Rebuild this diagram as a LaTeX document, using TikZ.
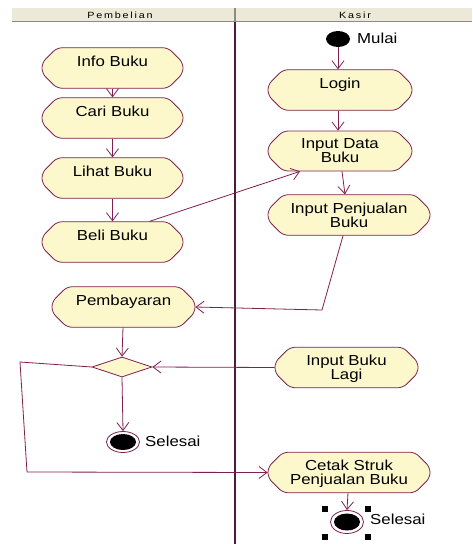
\documentclass[tikz,border=0pt]{standalone}
\usepackage{fontspec}
\usetikzlibrary{arrows.meta,shapes.misc,shapes.geometric}
\setmainfont{Liberation Serif}
\newfontfamily\rosefont[FakeStretch=1.16]{Liberation Sans}
\newfontfamily\lanefont[FakeStretch=1.2,LetterSpace=20]{Liberation Sans}

\definecolor{flow}{RGB}{128,32,80}
\definecolor{actfill}{RGB}{252,248,204}
\definecolor{lanehead}{RGB}{236,233,216}
\definecolor{laneedge}{RGB}{140,140,135}
\definecolor{laneline}{RGB}{80,25,55}

\tikzset{
  act/.style={chamfered rectangle, chamfered rectangle xsep=7pt, chamfered rectangle ysep=8pt,
    rounded corners=5pt, draw=flow, fill=actfill, line width=0.8pt,
    inner sep=0pt, minimum height=30pt, align=center, text depth=0pt,
    font=\rosefont\fontsize{14.5}{14}\selectfont},
  lbl/.style={anchor=west, inner sep=0pt, font=\rosefont\fontsize{14.5}{14}\selectfont},
  lanelbl/.style={inner sep=0pt, font=\lanefont\fontsize{9}{9}\selectfont},
  flowline/.style={draw=flow, line width=0.8pt},
  flowarrow/.style={flowline, -{Straight Barb[length=8pt,width=12pt]}},
  startdot/.style={ellipse, fill=black, inner sep=0pt, minimum width=24pt, minimum height=16pt},
  endring/.style={ellipse, draw=flow, fill=white, line width=0.8pt, inner sep=0pt,
    minimum width=33pt, minimum height=21pt},
  enddot/.style={ellipse, fill=black, inner sep=0pt, minimum width=26pt, minimum height=16pt},
  handle/.style={rectangle, fill=black, inner sep=0pt, minimum size=6pt},
  decision/.style={diamond, aspect=3, draw=flow, fill=actfill, line width=0.8pt,
    inner sep=0pt, minimum width=60pt, minimum height=20pt}
}

\begin{document}
\begin{tikzpicture}[x=1pt, y=-1pt]
  \useasboundingbox (0,0) rectangle (472,544);
  \fill[white] (0,0) rectangle (472,544);

  % caption running off the top edge: only its lowest part shows
  \node[anchor=base west, inner sep=0pt, font=\fontsize{30}{30}\selectfont]
    (caption) at (48,-7) {Activity diagram penjualan buku};

  % swimlane header
  \fill[lanehead] (12,8) rectangle (472,21);
  \draw[laneedge, line width=1.5pt] (12,21.5) -- (472,21.5);
  \draw[laneedge, line width=1.2pt] (235,8) -- (235,21);
  \draw[laneline, line width=1.3pt] (235,22) -- (235,544);
  \node[lanelbl] (lanePembelian) at (120,15) {Pembelian};
  \node[lanelbl] (laneKasir) at (355,15) {Kasir};

  % Pembelian lane
  \node[act, minimum width=141pt] (info)  at (112.5,68)  {Info Buku\\\phantom{B}};
  \node[act, minimum width=141pt] (cari)  at (112.5,118) {Cari Buku\\\phantom{B}};
  \node[act, minimum width=141pt] (lihat) at (112.5,178) {Lihat Buku\\\phantom{B}};
  \node[act, minimum width=141pt] (beli)  at (112.5,242) {Beli Buku\\\phantom{B}};
  \node[act, minimum width=143pt] (bayar) at (123.5,307) {Pembayaran\\\phantom{B}};
  \node[decision] (cek) at (122,367) {};
  \node[endring] (end1) at (123,442) {};
  \node[enddot] (end1dot) at (123,442) {};
  \node[lbl] (end1lbl) at (145,441) {Selesai};

  % Kasir lane
  \node[startdot] (mulai) at (338,39) {};
  \node[lbl] (mulailbl) at (357,38) {Mulai};
  \node[act, minimum width=144pt] (login) at (340,90)  {Login\\\phantom{B}};
  \node[act, minimum width=144pt] (idata) at (340,151) {Input Data\\Buku};
  \node[act, minimum width=162pt, minimum height=33pt] (ijual) at (349,215) {Input Penjualan\\Buku};
  \node[act, minimum width=143pt, minimum height=31pt] (lagi)  at (346.5,367.5) {Input Buku\\Lagi};
  \node[act, minimum width=162pt, minimum height=31pt] (cetak) at (349,472.5) {Cetak Struk\\Penjualan Buku};
  \node[endring, minimum height=23pt] (end2) at (347,522) {};
  \node[enddot, minimum height=17pt] (end2dot) at (347,522) {};
  \node[lbl] (end2lbl) at (370,519) {Selesai};
  \node[handle] (h1) at (325,509) {};
  \node[handle] (h2) at (368,509) {};
  \node[handle] (h3) at (325,537) {};
  \node[handle] (h4) at (368,537) {};

  % bend points
  \coordinate (jualbend) at (322,310);
  \coordinate (loopa) at (20,362);
  \coordinate (loopb) at (27,472);

  % flows
  \draw[flowarrow] (info.south) -- (cari.north);
  \draw[flowarrow] (cari.south) -- (lihat.north);
  \draw[flowarrow] (lihat.south) -- (beli.north);
  \draw[flowarrow] ([xshift=37pt]beli.north) -- ([xshift=-40pt]idata.south);
  \draw[flowarrow] (mulai.south) -- ([xshift=-2pt]login.north);
  \draw[flowarrow] ([xshift=-2pt]login.south) -- ([xshift=-2pt]idata.north);
  \draw[flowarrow] ([xshift=2pt]idata.south) -- ([xshift=-4pt]ijual.north);
  \draw[flowarrow] ([xshift=-6pt]ijual.south) -- (jualbend) -- (bayar.east);
  \draw[flowarrow] ([xshift=-0.5pt]bayar.south) -- (cek.north);
  \draw[flowarrow] (lagi.west) -- (cek.east);
  \draw[flowarrow] (cek.south) -- (end1.north);
  \draw[flowarrow] (cek.west) -- (loopa) -- (loopb) -- (cetak.west);
  \draw[flowarrow] ([xshift=-1pt]cetak.south) -- (end2.north);
\end{tikzpicture}
\end{document}
